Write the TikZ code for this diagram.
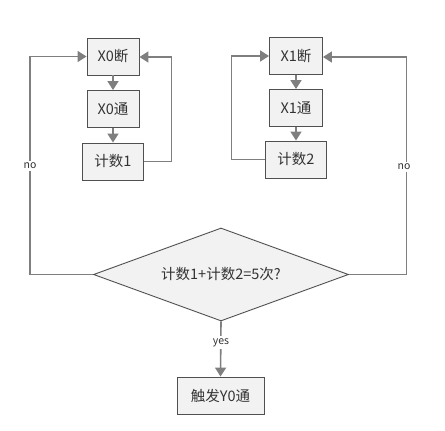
\documentclass[tikz,border=0pt]{standalone}
\usepackage{fontspec}
\setmainfont{Noto Sans CJK SC}
\usetikzlibrary{shapes.geometric,arrows.meta}
\definecolor{boxfill}{HTML}{F2F2F2}
\definecolor{boxline}{HTML}{505050}
\definecolor{conn}{HTML}{7F7F7F}
\tikzset{
  stepbox/.style={draw=boxline,fill=boxfill,line width=0.9pt,minimum height=37pt,inner sep=0pt,font=\fontsize{14.5}{16}\selectfont,text=black!80},
  flow/.style={draw=conn,line width=1.6pt,-{Triangle[length=9pt,width=11pt]}},
  lbl/.style={fill=white,font=\fontsize{10.5}{12}\selectfont,text=black!80,inner sep=2pt}
}
\begin{document}
\begin{tikzpicture}[x=1pt,y=-1pt]
\useasboundingbox (0,0) rectangle (445,431);
\node[stepbox,minimum width=52pt] (a0) at (113,56.5) {X0断};
\node[stepbox,minimum width=52pt] (b0) at (113,109) {X0通};
\node[stepbox,minimum width=61pt] (c0) at (113,161.5) {计数1};
\node[stepbox,minimum width=53pt] (a1) at (296,56) {X1断};
\node[stepbox,minimum width=53pt] (b1) at (296,108) {X1通};
\node[stepbox,minimum width=61pt] (c1) at (296,159.5) {计数2};
\node[diamond,draw=boxline,fill=boxfill,line width=0.9pt,minimum width=255pt,minimum height=93pt,inner sep=0pt,aspect=2.74,text=black!80] (d) at (221,274.5) {};
\node[font=\fontsize{14.5}{16}\selectfont,text=black!80] (dt) at (221,274) {计数1+计数2=5次?};
\node[stepbox,minimum width=87pt] (y) at (220.5,395.5) {触发Y0通};
\coordinate (l1) at (30,274.5);
\coordinate (l2) at (30,56.5);
\coordinate (r1) at (406.5,274.5);
\coordinate (r2) at (406.5,57);
\coordinate (f1) at (171.5,161.5);
\coordinate (f2) at (171.5,57);
\coordinate (g1) at (231.5,159.5);
\coordinate (g2) at (231.5,56);
\draw[flow] (a0) -- (b0);
\draw[flow] (b0) -- (c0);
\draw[flow] (a1) -- (b1);
\draw[flow] (b1) -- (c1);
\draw[flow] (c0.east) -- (f1) -- (f2) -- (a0.east|-f2);
\draw[flow] (c1.west) -- (g1) -- (g2) -- (a1.west|-g2);
\draw[flow] (d.west) -- (l1) -- (l2) -- (a0.west|-l2);
\draw[flow] (d.east) -- (r1) -- (r2) -- (a1.east|-r2);
\draw[flow] (d.south) -- (y.north);
\node[lbl] at (30,166) {no};
\node[lbl] at (404,167) {no};
\node[lbl] at (221,342.5) {yes};
\end{tikzpicture}
\end{document}
